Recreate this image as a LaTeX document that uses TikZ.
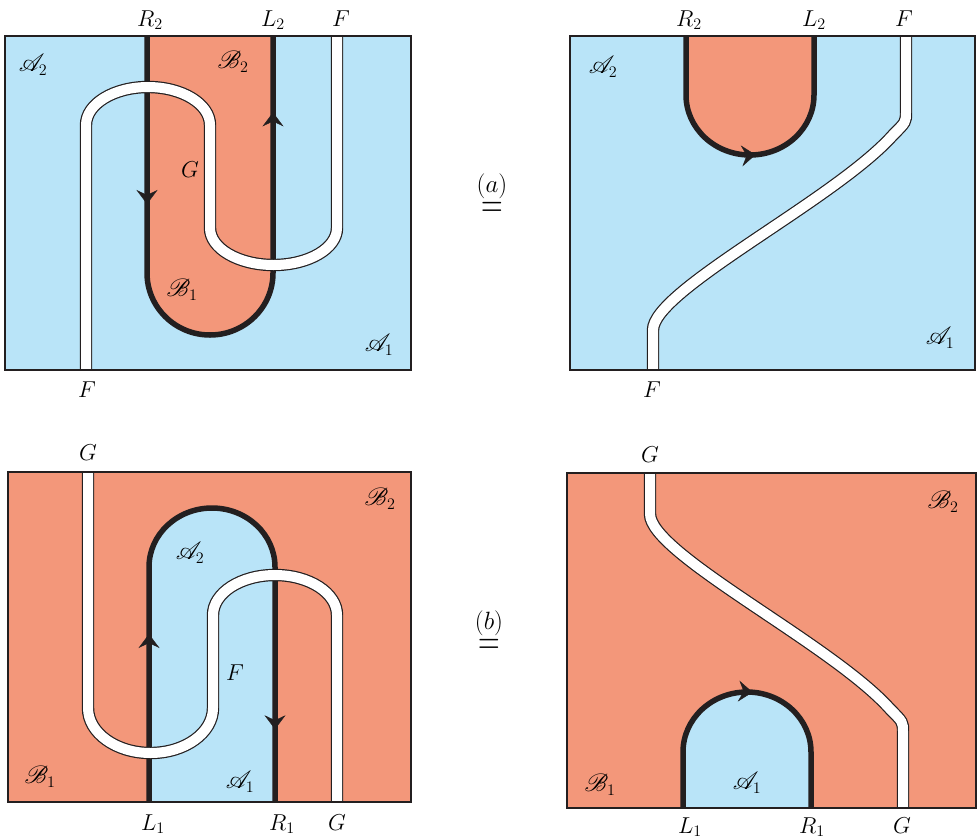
\RequirePackage{fix-cm}
\documentclass[tikz,border=0pt]{standalone}
\usepackage{mathrsfs}
\usepackage{graphicx}
\usetikzlibrary{arrows.meta,decorations.markings}
\definecolor{pblue}{RGB}{185,228,248}
\definecolor{pred}{RGB}{243,151,122}
\definecolor{ink}{RGB}{35,31,32}
\tikzset{myhead/.tip={Stealth[length=14pt,width=21pt,inset=5pt,line width=0.4pt]}}
\begin{document}
\begin{tikzpicture}[x=1pt,y=-1pt,font=\fontsize{23}{27}\selectfont,
  bnd/.style={draw=ink,line width=5.5pt},
  frm/.style={draw=ink,line width=1.8pt},
  strip/.style={draw=ink,line width=1.2pt,double=white,double distance=10pt},
  lbl/.style={inner sep=0pt},
  arrat/.style={postaction={decorate,decoration={markings,mark=at position #1 with {\arrow{myhead}}}}}]
\useasboundingbox (0,0) rectangle (978,839);

% ---------- top left ----------
\begin{scope}
  \clip (5,36) rectangle (411,370);
  \fill[pblue] (5,36) rectangle (411,370);
  \fill[pred] (147,36) -- (147,273) arc[start angle=180,end angle=0,x radius=63,y radius=62] -- (273,36) -- cycle;
  \draw[bnd,arrat=168pt,arrat=594pt] (147,36) -- (147,273) arc[start angle=180,end angle=0,x radius=63,y radius=62] -- (273,36);
  \draw[strip] (86,372) -- (86,125) arc[start angle=180,end angle=360,x radius=62,y radius=38] -- (210,228) arc[start angle=180,end angle=0,x radius=63.5,y radius=37] -- (337,34);
\end{scope}
\draw[frm] (5,36) rectangle (411,370);

% ---------- top right ----------
\begin{scope}
  \clip (570,36) rectangle (975,370);
  \fill[pblue] (570,36) rectangle (975,370);
  \fill[pred] (686,36) -- (686,95) arc[start angle=180,end angle=0,x radius=64,y radius=60] -- (814,36) -- cycle;
  \draw[bnd,arrat=162pt] (686,36) -- (686,95) arc[start angle=180,end angle=0,x radius=64,y radius=60] -- (814,36);
  \draw[strip] (906,34) -- (906,112) .. controls (906,122) .. (893,135) .. controls (835,200) and (653,290) .. (653,330) -- (653,372);
\end{scope}
\draw[frm] (570,36) rectangle (975,370);

% ---------- bottom left ----------
\begin{scope}
  \clip (8,472) rectangle (411,802);
  \fill[pred] (8,472) rectangle (411,802);
  \fill[pblue] (149,802) -- (149,567) arc[start angle=180,end angle=360,x radius=63,y radius=59] -- (275,802) -- cycle;
  \draw[bnd,arrat=168pt,arrat=589pt] (149,802) -- (149,567) arc[start angle=180,end angle=360,x radius=63,y radius=59] -- (275,802);
  \draw[strip] (88,470) -- (88,708) arc[start angle=180,end angle=0,x radius=62.5,y radius=45] -- (213,615) arc[start angle=180,end angle=360,x radius=62,y radius=40] -- (337,804);
\end{scope}
\draw[frm] (8,472) rectangle (411,802);

% ---------- bottom right ----------
\begin{scope}
  \clip (567,473) rectangle (976,808);
  \fill[pred] (567,473) rectangle (976,808);
  \fill[pblue] (683,808) -- (683,752) arc[start angle=180,end angle=360,x radius=64,y radius=60] -- (811,808) -- cycle;
  \draw[bnd,arrat=159pt] (683,808) -- (683,752) arc[start angle=180,end angle=360,x radius=64,y radius=60] -- (811,808);
  \draw[strip] (903,810) -- (903,732) .. controls (903,722) .. (890,709) .. controls (832,644) and (650,554) .. (650,514) -- (650,471);
\end{scope}
\draw[frm] (567,473) rectangle (976,808);

% ---------- labels top left ----------
\node[lbl,anchor=base] (tlR) at (150,26) {$R_2$};
\node[lbl,anchor=base] (tlL) at (273,26) {$L_2$};
\node[lbl,anchor=base] (tlFt) at (341,26) {$F$};
\node[lbl,anchor=base] (tlFb) at (87,397) {$F$};
\node[lbl] (tlA2) at (33,65) {$\mathscr{A}_2$};
\node[lbl] (tlB2) at (233,62) {$\mathscr{B}_2$};
\node[lbl] (tlG) at (190,170) {$G$};
\node[lbl] (tlB1) at (182,290) {$\mathscr{B}_1$};
\node[lbl] (tlA1) at (379,345) {$\mathscr{A}_1$};

% ---------- labels top right ----------
\node[lbl,anchor=base] (trR) at (689,26) {$R_2$};
\node[lbl,anchor=base] (trL) at (814,26) {$L_2$};
\node[lbl,anchor=base] (trFt) at (904,26) {$F$};
\node[lbl,anchor=base] (trFb) at (652,397) {$F$};
\node[lbl] (trA2) at (603,67) {$\mathscr{A}_2$};
\node[lbl] (trA1) at (940,338) {$\mathscr{A}_1$};

% ---------- labels bottom left ----------
\node[lbl,anchor=base] (blGt) at (88,460) {$G$};
\node[lbl,anchor=base] (blL) at (153,830) {$L_1$};
\node[lbl,anchor=base] (blR) at (282,830) {$R_1$};
\node[lbl,anchor=base] (blGb) at (337,830) {$G$};
\node[lbl] (blA2) at (190,553) {$\mathscr{A}_2$};
\node[lbl] (blF) at (235,673) {$F$};
\node[lbl] (blA1) at (240,782) {$\mathscr{A}_1$};
\node[lbl] (blB1) at (40,777) {$\mathscr{B}_1$};
\node[lbl] (blB2) at (380,499) {$\mathscr{B}_2$};

% ---------- labels bottom right ----------
\node[lbl,anchor=base] (brGt) at (650,462) {$G$};
\node[lbl,anchor=base] (brL) at (690,833) {$L_1$};
\node[lbl,anchor=base] (brR) at (812,833) {$R_1$};
\node[lbl,anchor=base] (brGb) at (902,833) {$G$};
\node[lbl] (brB2) at (943,502) {$\mathscr{B}_2$};
\node[lbl] (brB1) at (600,785) {$\mathscr{B}_1$};
\node[lbl] (brA1) at (747,783) {$\mathscr{A}_1$};

% ---------- equalities ----------
\node[lbl,anchor=north,font=\fontsize{25}{29}\selectfont] (eqa) at (492,174) {\shortstack{$(a)$\\\scalebox{1.2}[1.7]{$=$}}};
\node[lbl,anchor=north,font=\fontsize{25}{29}\selectfont] (eqb) at (489,611) {\shortstack{$(b)$\\\scalebox{1.2}[1.7]{$=$}}};
\end{tikzpicture}
\end{document}
